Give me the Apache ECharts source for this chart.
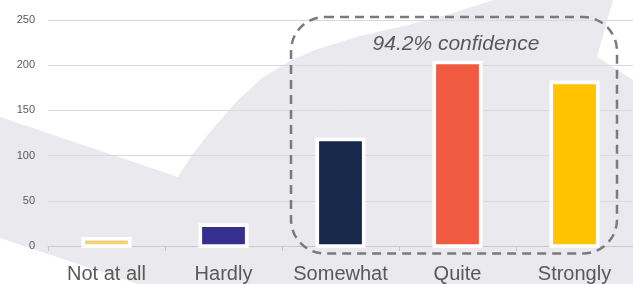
<!DOCTYPE html>
<html>
<head>
<meta charset="utf-8">
<script src="https://cdn.jsdelivr.net/npm/echarts@6/dist/echarts.min.js"></script>
<style>
  html, body { margin: 0; padding: 0; background: #fff; }
  #chart { width: 633px; height: 284px; }
</style>
</head>
<body>
<div id="chart"></div>
<script>
const categories = ['Not at all', 'Hardly', 'Somewhat', 'Quite', 'Strongly']
const counts = [8, 23, 118, 203, 181]
const barColors = ['#f3d275', '#372f8f', '#17284b', '#f05a40', '#ffc300']
const yTicks = { min: 0, max: 250, interval: 50 }
const noteText = '94.2% confidence'

const chartInstance = echarts.init(document.getElementById('chart'))

// decorative background shape
const bgShape = [
    [0, 117], [178, 177], [192, 155], [210, 132], [238, 100], [262, 78],
    [290, 61], [315, 50], [360, 36], [404, 26], [450, 14], [493, 0],
    [613, 0], [597, 57], [633, 80], [633, 284], [138, 284], [0, 238]
]

// bar with the white outline centred on its edge (like the office chart)
const renderBar = (params, api) => {
    const top = api.coord([api.value(0), api.value(1)])
    const base = api.coord([api.value(0), 0])
    const w = 46.5
    return {
        type: 'rect',
        shape: { x: top[0] - w / 2, y: top[1], width: w, height: base[1] - top[1] },
        style: { fill: barColors[params.dataIndex], stroke: '#ffffff', lineWidth: 3.7 }
    }
}

const option = {
    animation: false,
    grid: { left: 48, right: 0, top: 20, bottom: 37.5 },
    xAxis: {
        type: 'category',
        data: categories,
        axisLine: { lineStyle: { color: '#c8c8c8', width: 1 } },
        axisTick: { show: true, length: 5, lineStyle: { color: '#c8c8c8' } },
        axisLabel: {
            interval: 0,
            color: '#595959',
            fontSize: 20,
            fontFamily: 'Liberation Sans',
            margin: 18
        }
    },
    yAxis: {
        type: 'value',
        min: yTicks.min,
        max: yTicks.max,
        interval: yTicks.interval,
        axisLine: { show: false },
        axisTick: { show: false },
        axisLabel: { color: '#595959', fontSize: 11, fontFamily: 'Liberation Sans', margin: 13 },
        splitLine: { lineStyle: { color: '#d9d9d9', width: 1 } }
    },
    graphic: [
        {
            type: 'polygon',
            z: -10,
            silent: true,
            shape: { points: bgShape },
            style: { fill: '#e9e9ee' }
        },
        {
            type: 'rect',
            z: 100,
            silent: true,
            shape: { x: 291, y: 17, width: 326, height: 236.5, r: 34 },
            style: { fill: 'none', stroke: '#7b7b7b', lineWidth: 2.5, lineDash: [9, 6] }
        },
        {
            type: 'text',
            z: 100,
            silent: true,
            x: 456,
            y: 44,
            style: {
                text: noteText,
                fill: '#595959',
                font: 'italic 21px "Liberation Sans"',
                align: 'center',
                verticalAlign: 'middle'
            }
        }
    ],
    series: [
        {
            type: 'custom',
            renderItem: renderBar,
            encode: { x: 0, y: 1 },
            data: counts.map((v, i) => [i, v])
        }
    ]
}

chartInstance.setOption(option)
</script>
</body>
</html>
